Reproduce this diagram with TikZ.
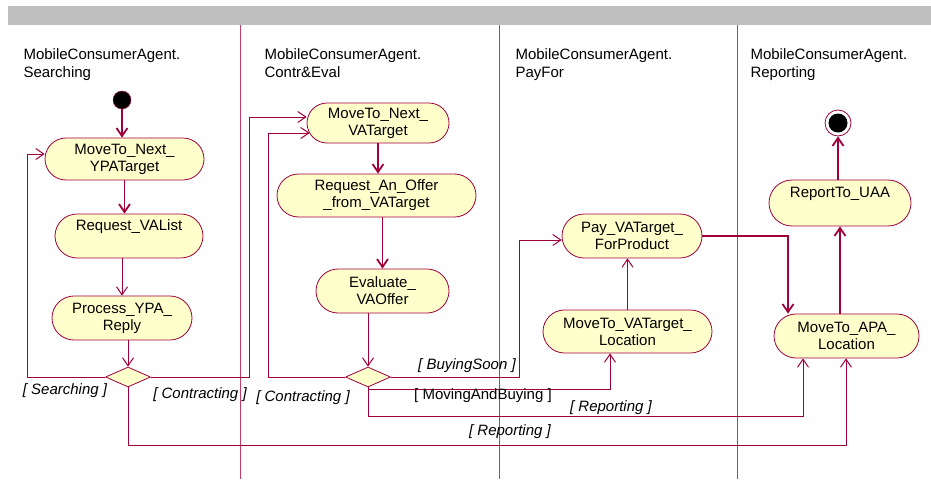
\documentclass[tikz,border=0pt]{standalone}
\usepackage{fontspec}
\setmainfont{Liberation Sans}
\usetikzlibrary{arrows.meta,shapes.misc,shapes.geometric}
\definecolor{umlred}{HTML}{A0003C}
\definecolor{lanered}{HTML}{C23A6C}
\definecolor{actfill}{HTML}{FFFFCC}
\definecolor{bargray}{HTML}{C0C0C0}
\tikzset{
  activity/.style={rounded rectangle, draw=umlred, fill=actfill, line width=0.8pt,
    inner sep=0pt, align=center, font=\fontsize{15}{17}\selectfont},
  choice/.style={diamond, draw=umlred, fill=actfill, line width=0.8pt, inner sep=0pt,
    minimum width=45pt, minimum height=20pt},
  flow/.style={draw=umlred, line width=1pt, -{Straight Barb[length=8pt,width=11pt]}},
  mainflow/.style={flow, line width=1.8pt},
  guard/.style={font=\fontsize{15}{17}\selectfont\itshape},
  lanetitle/.style={anchor=base west, align=left, font=\fontsize{15}{18}\selectfont},
  lane/.style={draw=lanered, line width=0.9pt},
}
\begin{document}
\begin{tikzpicture}[x=1pt,y=-1pt]
\useasboundingbox (0,0) rectangle (931,479);
% the header bar and the lanes
\fill[bargray] (8,6) rectangle (931,25);
\draw[lane] (240,25) -- (240,479);
\draw[lane] (499,25) -- (499,479);
\draw[lane] (737,25) -- (737,479);

\node[lanetitle] (lsearch) at (20,77) {MobileConsumerAgent.\\Searching};
\node[lanetitle] (lcontr) at (261,77) {MobileConsumerAgent.\\Contr\&Eval};
\node[lanetitle] (lpay) at (512,77) {MobileConsumerAgent.\\PayFor};
\node[lanetitle] (lreport) at (747,77) {MobileConsumerAgent.\\Reporting};

% the activities
\node[circle, fill=black, draw=umlred, minimum size=18pt, inner sep=0pt] (start) at (122,100) {};
\node[activity, minimum width=159pt, minimum height=42pt] (n1) at (124.5,159) {MoveTo\_Next\_\\YPATarget};
\node[activity, minimum width=148pt, minimum height=44pt] (n2) at (129,236) {Request\_VAList\\\strut};
\node[activity, minimum width=140pt, minimum height=44pt] (n3) at (122,318) {Process\_YPA\_\\Reply};
\node[choice] (d1) at (128,377) {};

\node[activity, minimum width=142pt, minimum height=40pt] (v1) at (378,123) {MoveTo\_Next\_\\VATarget};
\node[activity, minimum width=199pt, minimum height=43pt] (v2) at (376.5,195.5) {Request\_An\_Offer\\\_from\_VATarget};
\node[activity, minimum width=133pt, minimum height=44pt] (v3) at (382.5,291) {Evaluate\_\\VAOffer};
\node[choice] (d2) at (368,377) {};

\node[activity, minimum width=140pt, minimum height=44pt] (p1) at (632,236) {Pay\_VATarget\_\\ForProduct};
\node[activity, minimum width=169pt, minimum height=43pt] (p2) at (627.5,331.5) {MoveTo\_VATarget\_\\Location};

\node[activity, minimum width=142pt, minimum height=46pt] (r1) at (840,203) {ReportTo\_UAA\\\strut};
\node[activity, minimum width=145pt, minimum height=44pt] (r2) at (846.5,336) {MoveTo\_APA\_\\Location};
\node[circle, draw=umlred, fill=white, line width=0.8pt, minimum size=26pt, inner sep=0pt] (stop) at (838,123) {};
\node[circle, fill=black, minimum size=19pt, inner sep=0pt] (stopdot) at (stop) {};

% the transitions
\draw[mainflow] (start) -- (start |- n1.north);
\draw[mainflow] (n1.south) -- (n1.south |- n2.north);
\draw[flow] (n3.north |- n2.south) -- (n3.north);
\draw[flow] (d1.north |- n3.south) -- (d1.north);
\draw[mainflow] (v1.south) -- (v1.south |- v2.north);
\draw[mainflow] (v3.north |- v2.south) -- (v3.north);
\draw[flow] (d2.north |- v3.south) -- (d2.north);
\draw[flow] (p2.north) -- (p2.north |- p1.south);
\draw[mainflow] (r1.south |- r2.north) -- (r1.south);
\draw[mainflow] (stop |- r1.north) -- (stop.south);

% the branches
\coordinate (searchbend) at (27,154);
\coordinate (contrbend) at (249,117);
\coordinate (contrbendb) at (268,133);
\coordinate (buybend) at (519,240);
\coordinate (movebend) at (610,389);
\coordinate (repbend) at (803,416);
\coordinate (repbendb) at (846,445);
\coordinate (paybend) at (788,237);

\draw[flow] (d1.west) -| (searchbend) -- (searchbend -| n1.west);
\draw[flow] (d1.east) -| (contrbend) -- (contrbend -| v1.west);
\draw[flow] (d1.south) |- (repbendb) -- (repbendb |- r2.south);
\draw[flow] (d2.west) -| (contrbendb) -- ([xshift=3pt]contrbendb -| v1.west);
\draw[flow] (d2.east) -| (buybend) -- (buybend -| p1.west);
\draw[flow] (d2.south) |- (movebend) -- (movebend |- p2.south);
\draw[flow] (d2.south) |- (repbend) -- (repbend |- r2.south);
\draw[mainflow] (p1.east) -| (paybend |- r2.north);

% the guards
\node[guard] (gsearch) at (65,391) {[ Searching ]};
\node[guard] (gcontr) at (200,395) {[ Contracting ]};
\node[guard] (gcontrb) at (303,398) {[ Contracting ]};
\node[guard] (gbuy) at (467,366) {[ BuyingSoon ]};
\node[font=\fontsize{15}{17}\selectfont] (gmove) at (483,396) {[ MovingAndBuying ]};
\node[guard] (grep) at (611,408) {[ Reporting ]};
\node[guard] (grepb) at (510,432) {[ Reporting ]};
\end{tikzpicture}
\end{document}
